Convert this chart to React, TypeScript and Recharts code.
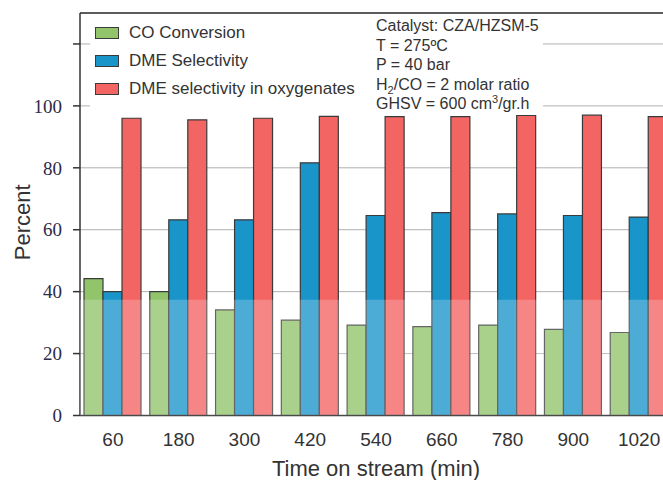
import React from 'react';
import { BarChart, Bar, XAxis, YAxis, CartesianGrid, ReferenceLine, ReferenceArea } from 'recharts';

const categories = ['60', '180', '300', '420', '540', '660', '780', '900', '1020'];
const coConversion = [44.2, 40, 34.1, 30.8, 29.2, 28.7, 29.2, 27.8, 26.8];
const dmeSelectivity = [40, 63.2, 63.2, 81.6, 64.6, 65.5, 65.1, 64.6, 64.1];
const dmeOxygenates = [96, 95.5, 96, 96.6, 96.5, 96.5, 96.9, 97, 96.5];
const yTicks = [0, 20, 40, 60, 80, 100, 120];
const yTickLabels = ['0', '20', '40', '60', '80', '100', ''];

const seriesNames = ['CO Conversion', 'DME Selectivity', 'DME selectivity in oxygenates'];
const seriesColors = ['#92c46c', '#1a95c9', '#f26563'];

const data = categories.map((c, i) => ({
  time: c,
  co: coConversion[i],
  dme: dmeSelectivity[i],
  oxy: dmeOxygenates[i],
}));

const sans = '"Liberation Sans", Arial, sans-serif';
const serif = '"Liberation Serif", "Times New Roman", serif';
const stroke = '#3a3a3a';

const YLabel = (props: any) => {
  const vb = props.viewBox || { x: 0, y: 0, width: 0, height: 0 };
  const cx = vb.x + 22;
  const cy = vb.y + vb.height / 2 + 8;
  return (
    <text x={cx} y={cy} transform={`rotate(-90 ${cx} ${cy})`} textAnchor="middle" dominantBaseline="central"
      fontFamily={sans} fontSize={22} fill="#333">Percent</text>
  );
};

export default function App() {
  return (
    <div style={{ position: 'absolute', left: 0, top: 0, width: 663, height: 480, overflow: 'hidden', background: '#fff' }}>
      <BarChart width={700} height={480} data={data} margin={{ top: 13, right: 28, bottom: 0, left: 0 }}
        barCategoryGap={4} barGap={0}>
        <CartesianGrid vertical={false} stroke="#b0b0b0" strokeWidth={1} />
        <XAxis dataKey="time" height={64.5} tickLine={false} axisLine={{ stroke: '#333', strokeWidth: 1.5 }}
          tickMargin={11.5} tick={{ fontFamily: sans, fontSize: 19, fill: '#333' }}
          label={{ value: 'Time on stream (min)', position: 'insideBottom', offset: 4, fontFamily: sans, fontSize: 22, fill: '#333' }} />
        <YAxis width={80} domain={[0, 130]} ticks={yTicks} interval={0} tickSize={7} tickMargin={11}
          tickFormatter={(v: number) => yTickLabels[yTicks.indexOf(v)] ?? ''}
          tickLine={{ stroke: '#333', strokeWidth: 1.5 }} axisLine={{ stroke: '#333', strokeWidth: 1.5 }}
          tick={{ fontFamily: serif, fontSize: 19, fill: '#2b2b4a' }}
          label={{ content: YLabel }} />
        <Bar dataKey="co" name={seriesNames[0]} fill={seriesColors[0]} stroke={stroke} strokeWidth={1.2} isAnimationActive={false} />
        <Bar dataKey="dme" name={seriesNames[1]} fill={seriesColors[1]} stroke={stroke} strokeWidth={1.2} isAnimationActive={false} />
        <Bar dataKey="oxy" name={seriesNames[2]} fill={seriesColors[2]} stroke={stroke} strokeWidth={1.2} isAnimationActive={false} />
        <ReferenceLine y={130} stroke="#333" strokeWidth={1.5} />
        <ReferenceArea y1={0} y2={37.4} fill="#ffffff" fillOpacity={0.22} stroke="none" zIndex={1000} />
      </BarChart>
      <div style={{ position: 'absolute', left: 90, top: 14, width: 453, height: 98, background: '#fff', fontFamily: sans, color: '#333' }}>
        {seriesNames.map((n, i) => (
          <div key={n} style={{ position: 'absolute', left: 5, top: 10 + i * 28, height: 18, display: 'flex', alignItems: 'center' }}>
            <div style={{ width: 22, height: 10, background: seriesColors[i], border: `1.5px solid ${stroke}` }} />
            <span style={{ marginLeft: 10, fontSize: 17, whiteSpace: 'nowrap' }}>{n}</span>
          </div>
        ))}
        <div style={{ position: 'absolute', left: 286, top: 2, fontSize: 16, lineHeight: '19.6px', whiteSpace: 'nowrap' }}>
          <div>Catalyst: CZA/HZSM-5</div>
          <div>T = 275ºC</div>
          <div>P = 40 bar</div>
          <div>H<sub style={{ fontSize: 11, lineHeight: 0 }}>2</sub>/CO = 2 molar ratio</div>
          <div>GHSV = 600 cm<sup style={{ fontSize: 11, lineHeight: 0 }}>3</sup>/gr.h</div>
        </div>
      </div>
    </div>
  );
}
